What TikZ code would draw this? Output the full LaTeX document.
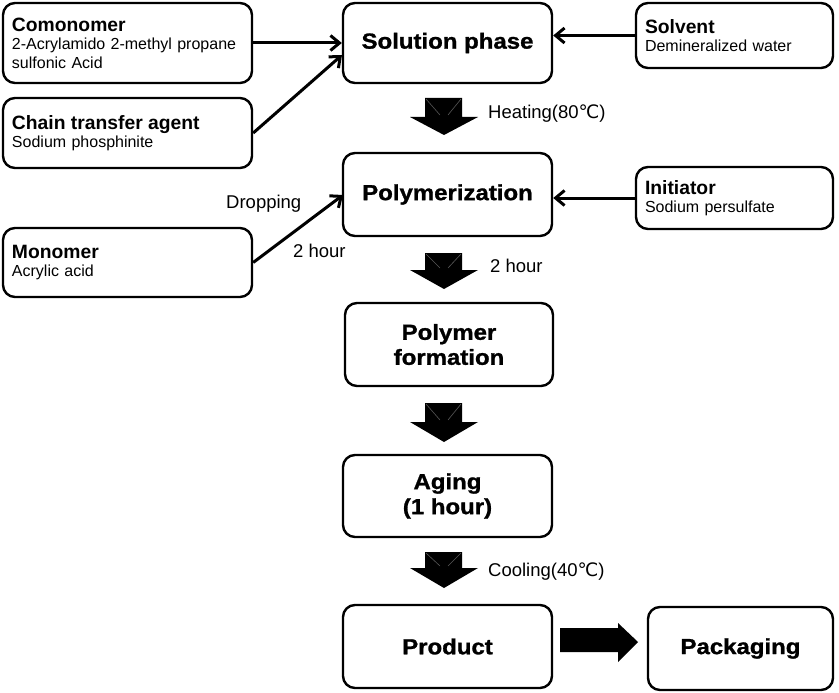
\documentclass[tikz,border=0pt]{standalone}
\usepackage{fontspec}
\setmainfont{Liberation Sans}
\newfontfamily\dejavu{DejaVu Sans}
\newfontfamily\heavy[FakeStretch=1.1,FakeBold=1.2]{Liberation Sans Bold}
\usetikzlibrary{arrows.meta}
\newcommand{\degc}{{\dejavu ℃}}
\newcommand{\ttlfont}{\fontsize{19.3}{19}\selectfont\bfseries}
\begin{document}
\begin{tikzpicture}[x=1pt,y=-1pt,
  box/.style={draw,line width=2.4pt,rounded corners=12pt,inner sep=0pt},
  mainbox/.style={box,font=\heavy\fontsize{21.8}{25}\selectfont,align=center},
  sidebox/.style={box,align=left,inner xsep=9pt,font=\fontsize{16}{18.5}\selectfont},
  lbl/.style={font=\fontsize{18.5}{20}\selectfont,inner sep=0pt},
  conn/.style={draw,line width=3pt,-{Straight Barb[length=9pt,width=15pt]}},
  blockarrow/.style={fill=black},
  bevel/.style={draw=black!65,line width=0.6pt}]
\useasboundingbox (0,0) rectangle (839,693);
% main column
\node[mainbox,minimum width=209pt,minimum height=80pt] (sol) at (447.5,43) {Solution phase};
\node[mainbox,minimum width=209pt,minimum height=83pt] (poly) at (447.5,194.5) {Polymerization};
\node[mainbox,minimum width=208pt,minimum height=83pt] (pform) at (449,344.5) {Polymer\\formation};
\node[mainbox,minimum width=209pt,minimum height=82pt] (aging) at (447.5,496) {Aging\\(1 hour)};
\node[mainbox,minimum width=209pt,minimum height=83pt] (prod) at (447.5,646.5) {Product};
\node[mainbox,minimum width=185pt,minimum height=83pt] (pack) at (740.5,648.5) {Packaging};
% side boxes
\node[sidebox,minimum width=249pt,minimum height=80pt,text width=231pt] (comon) at (127.5,43)
  {{\ttlfont Comonomer}\\2-Acrylamido 2-methyl propane\\sulfonic Acid};
\node[sidebox,minimum width=249pt,minimum height=70pt,text width=231pt] (chain) at (127.5,133)
  {{\ttlfont Chain transfer agent}\\Sodium phosphinite};
\node[sidebox,minimum width=249pt,minimum height=69pt,text width=231pt] (mono) at (127.5,262.5)
  {{\ttlfont Monomer}\\Acrylic acid};
\node[sidebox,minimum width=197pt,minimum height=65pt,text width=179pt] (solv) at (734.5,35.5)
  {{\ttlfont Solvent}\\Demineralized water};
\node[sidebox,minimum width=197pt,minimum height=62pt,text width=179pt] (init) at (734.5,198)
  {{\ttlfont Initiator}\\Sodium persulfate};
% connectors
\coordinate (solA) at (sol.west |- comon.east);
\coordinate (solB) at (342,55);
\coordinate (polyA) at (343,195);
\draw[conn] (comon.east) -- (solA);
\draw[conn] (chain.east) -- (solB);
\draw[conn] (mono.east) -- (polyA);
\draw[conn] (solv.west) -- (sol.east |- solv.west);
\draw[conn] (init.west) -- (poly.east |- init.west);
% labels
\node[lbl,anchor=west] (l1) at (488,114) {Heating(80\degc)};
\node[lbl,anchor=west] (l2) at (490,266) {2 hour};
\node[lbl,anchor=west] (l3) at (488,572) {Cooling(40\degc)};
\node[lbl,anchor=west] (l4) at (226,204) {Dropping};
\node[lbl,anchor=west] (l5) at (293,251) {2 hour};
% block arrows
\foreach \t/\h/\b in {98/117/135, 253/270/289, 403/422/442, 552/568/588}{
  \fill[blockarrow] (425,\t) -- (462,\t) -- (462,\h) -- (478,\h) -- (444,\b) -- (410,\h) -- (425,\h) -- cycle;
  \draw[bevel] (426,\t+1) -- (440,\h-2) (461,\t+1) -- (448,\h-2);
}
\fill[blockarrow] (560,628) -- (618,628) -- (618,623) -- (638,642) -- (618,662) -- (618,652) -- (560,652) -- cycle;
\end{tikzpicture}
\end{document}
